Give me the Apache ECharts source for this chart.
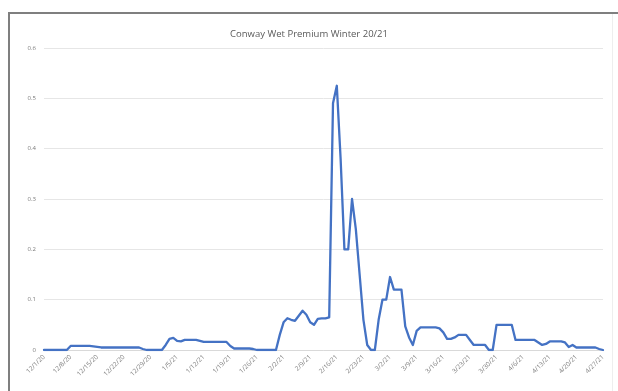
<!DOCTYPE html>
<html>
<head>
<meta charset="utf-8">
<title>Conway Wet Premium Winter 20/21</title>
<script src="https://cdn.jsdelivr.net/npm/echarts@6/dist/echarts.min.js"></script>
<style>
  html, body { margin: 0; padding: 0; background: #ffffff; }
  #chart { width: 618px; height: 391px; }
</style>
</head>
<body>
<div id="chart"></div>
<script>
// Daily dates, 12/1/20 through 4/27/21
const startDate = new Date(2020, 11, 1);
const dayCount = 148;
const categories = [];
for (let i = 0; i < dayCount; i++) {
  const d = new Date(startDate.getFullYear(), startDate.getMonth(), startDate.getDate() + i);
  categories.push((d.getMonth() + 1) + '/' + d.getDate() + '/' + String(d.getFullYear()).slice(2));
}

// Wet premium, one value per day
const premium = [
  0, 0, 0, 0, 0, 0, 0, 0.008, 0.008, 0.008,
  0.008, 0.008, 0.008, 0.007, 0.006, 0.005, 0.005, 0.005, 0.005, 0.005,
  0.005, 0.005, 0.005, 0.005, 0.005, 0.005, 0.002, 0, 0, 0,
  0, 0, 0.01, 0.022, 0.024, 0.018, 0.017, 0.02, 0.02, 0.02,
  0.02, 0.018, 0.016, 0.016, 0.016, 0.016, 0.016, 0.016, 0.016, 0.008,
  0.003, 0.003, 0.003, 0.003, 0.003, 0.002, 0, 0, 0, 0,
  0, 0, 0.03, 0.055, 0.063, 0.06, 0.058, 0.068, 0.078, 0.07,
  0.055, 0.05, 0.062, 0.063, 0.063, 0.065, 0.49, 0.525, 0.38, 0.2,
  0.2, 0.3, 0.24, 0.15, 0.06, 0.01, 0, 0, 0.06, 0.1,
  0.1, 0.145, 0.12, 0.12, 0.12, 0.047, 0.025, 0.01, 0.038, 0.045,
  0.045, 0.045, 0.045, 0.045, 0.043, 0.035, 0.022, 0.022, 0.025, 0.03,
  0.03, 0.03, 0.02, 0.01, 0.01, 0.01, 0.01, 0, 0, 0.05,
  0.05, 0.05, 0.05, 0.05, 0.02, 0.02, 0.02, 0.02, 0.02, 0.02,
  0.015, 0.01, 0.012, 0.017, 0.017, 0.017, 0.017, 0.015, 0.006, 0.01,
  0.005, 0.005, 0.005, 0.005, 0.005, 0.005, 0.002, 0
];

const yTicks = [0, 0.1, 0.2, 0.3, 0.4, 0.5, 0.6];

const chart = echarts.init(document.getElementById('chart'), null, { renderer: 'canvas' });

chart.setOption({
  backgroundColor: '#ffffff',
  animation: false,
  title: {
    text: 'Conway Wet Premium Winter 20/21',
    left: 'center',
    top: 24,
    textStyle: {
      fontFamily: 'Open Sans',
      fontSize: 9.5,
      fontWeight: 'normal',
      color: '#595959'
    }
  },
  graphic: [
    { type: 'line', shape: { x1: 9, y1: 13, x2: 618, y2: 13 }, style: { stroke: '#7f7f7f', lineWidth: 2 } },
    { type: 'line', shape: { x1: 9, y1: 12, x2: 9, y2: 391 }, style: { stroke: '#7f7f7f', lineWidth: 2 } },
    { type: 'line', shape: { x1: 612.5, y1: 14, x2: 612.5, y2: 391 }, style: { stroke: '#eeeeee', lineWidth: 1 } }
  ],
  grid: { left: 44, right: 15, top: 48, bottom: 41, containLabel: false },
  xAxis: {
    type: 'category',
    data: categories,
    boundaryGap: false,
    axisLine: { show: true, lineStyle: { color: '#d9d9d9', width: 1 } },
    axisTick: { show: false },
    axisLabel: {
      interval: 6,
      rotate: 45,
      fontFamily: 'Open Sans',
      fontSize: 6.5,
      color: '#808080',
      margin: 6
    },
    splitLine: { show: false }
  },
  yAxis: {
    type: 'value',
    min: yTicks[0],
    max: yTicks[yTicks.length - 1],
    interval: 0.1,
    axisLine: { show: false },
    axisTick: { show: false },
    axisLabel: {
      fontFamily: 'Open Sans',
      fontSize: 6,
      color: '#7a7a7a',
      margin: 8,
      formatter: function (v) { return String(Math.round(v * 10) / 10); }
    },
    splitLine: { show: true, lineStyle: { color: '#e6e6e6', width: 1 } }
  },
  series: [{
    type: 'line',
    data: premium,
    showSymbol: false,
    symbol: 'none',
    lineStyle: { color: '#4472c4', width: 2.3, join: 'round', cap: 'round' },
    itemStyle: { color: '#4472c4' }
  }]
});
</script>
</body>
</html>
